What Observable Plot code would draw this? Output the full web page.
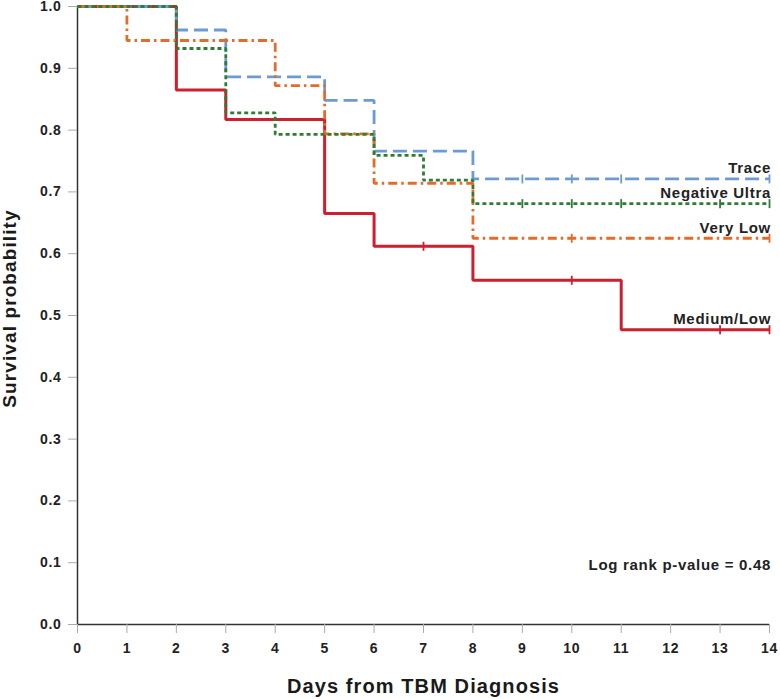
<!DOCTYPE html>
<html>
<head>
<meta charset="utf-8">
<script src="https://cdn.jsdelivr.net/npm/d3@7"></script>
<script src="https://cdn.jsdelivr.net/npm/@observablehq/plot@0.6"></script>
<style>
  html, body { margin: 0; padding: 0; background: #fff; }
  #chart svg { display: block; }
</style>
</head>
<body>
<div id="chart"></div>
<script>
// ---- Data ----
const groups = ["Trace", "Negative Ultra", "Very Low", "Medium/Low"];

const traceTime = [0, 2, 3, 5, 6, 8, 14];
const traceSurv = [1.0, 0.962, 0.886, 0.848, 0.766, 0.721, 0.721];
const traceCensor = [9, 10, 11, 14];

const negTime = [0, 2, 3, 4, 6, 7, 8, 14];
const negSurv = [1.0, 0.932, 0.828, 0.793, 0.759, 0.719, 0.681, 0.681];
const negCensor = [9, 10, 11, 13, 14];

const vlowTime = [0, 1, 4, 5, 6, 8, 14];
const vlowSurv = [1.0, 0.945, 0.872, 0.794, 0.714, 0.625, 0.625];
const vlowCensor = [10, 14];

const medTime = [0, 2, 3, 5, 6, 8, 11, 14];
const medSurv = [1.0, 0.865, 0.817, 0.665, 0.612, 0.557, 0.477, 0.477];
const medCensor = [7, 10, 13, 14];

const xTicks = [0, 1, 2, 3, 4, 5, 6, 7, 8, 9, 10, 11, 12, 13, 14];
const yTicks = [0, 0.1, 0.2, 0.3, 0.4, 0.5, 0.6, 0.7, 0.8, 0.9, 1.0];

const xTitle = "Days from TBM Diagnosis";
const yTitle = "Survival probability";
const pvalueText = "Log rank p-value = 0.48";

// ---- Build tables ----
function curve(group, times, survs) {
  return times.map((t, i) => ({group, time: t, surv: survs[i]}));
}
function censors(group, times, stepT, stepS) {
  return times.map(t => {
    let s = stepS[0];
    for (let i = 0; i < stepT.length; i++) if (stepT[i] <= t) s = stepS[i];
    return {group, time: t, surv: s};
  });
}

const series = [
  {name: "Medium/Low", t: medTime, s: medSurv, c: medCensor, color: "#cc1f2f", dash: null, width: 3},
  {name: "Trace", t: traceTime, s: traceSurv, c: traceCensor, color: "#6b9bd2", dash: "14,6", width: 2.8},
  {name: "Very Low", t: vlowTime, s: vlowSurv, c: vlowCensor, color: "#e36c2b", dash: "9,4,2.5,4", width: 2.8},
  {name: "Negative Ultra", t: negTime, s: negSurv, c: negCensor, color: "#2e7d32", dash: "4,3", width: 2.8}
];

const vbar = {
  draw(ctx, size) {
    const r = Math.sqrt(size / Math.PI);
    ctx.moveTo(0, -r);
    ctx.lineTo(0, r);
  }
};

const marks = [];
marks.push(Plot.ruleX([0], {stroke: "#333", strokeWidth: 1.5}));
marks.push(Plot.ruleY([0], {stroke: "#333", strokeWidth: 1.5}));

for (const sr of series) {
  const data = curve(sr.name, sr.t, sr.s);
  marks.push(Plot.line(data, {
    x: "time", y: "surv", curve: "step-after",
    stroke: sr.color, strokeWidth: sr.width,
    strokeDasharray: sr.dash || undefined,
    strokeLinecap: "butt", strokeLinejoin: "miter"
  }));
}
for (const sr of series) {
  marks.push(Plot.dot(censors(sr.name, sr.c, sr.t, sr.s), {
    x: "time", y: "surv", symbol: vbar, r: 4.5,
    stroke: sr.color, strokeWidth: 1.8, fill: "none"
  }));
}

// Curve labels at the right end of each curve
const labelData = series.map(sr => ({
  text: sr.name, time: sr.t[sr.t.length - 1], surv: sr.s[sr.s.length - 1]
}));
marks.push(Plot.text(labelData, {
  x: "time", y: "surv", text: "text", textAnchor: "end",
  dy: -10.5, dx: 1.5, fontSize: 15, fontWeight: "bold", fill: "#222"
}));

marks.push(Plot.text([pvalueText], {
  frameAnchor: "bottom-right", text: d => d, textAnchor: "end", lineAnchor: "middle",
  dx: 1.5, dy: -59.5, fontSize: 15, fontWeight: "bold", fill: "#222"
}));

// Axes
marks.push(Plot.axisX({
  ticks: xTicks, tickSize: 9, tickPadding: 10, stroke: "#aaa", color: "#222",
  fontSize: 14, fontWeight: "bold", label: null, tickFormat: d3.format("d")
}));
marks.push(Plot.axisY({
  ticks: yTicks, tickSize: 9, tickPadding: 7, stroke: "#aaa", color: "#222",
  fontSize: 14, fontWeight: "bold", label: null, tickFormat: d3.format(".1f")
}));

// Axis titles
marks.push(Plot.text([xTitle], {
  frameAnchor: "bottom", text: d => d, textAnchor: "middle", lineAnchor: "middle",
  dy: 61.6, fontSize: 20, fontWeight: "bold", fill: "#1a1a1a"
}));
marks.push(Plot.text([yTitle], {
  frameAnchor: "left", text: d => d, rotate: -90, textAnchor: "middle", lineAnchor: "middle",
  dx: -67.5, dy: -7, fontSize: 19, fontWeight: "bold", fill: "#1a1a1a"
}));

const chart = Plot.plot({
  width: 780,
  height: 699,
  marginLeft: 77,
  marginRight: 11,
  marginTop: 6,
  marginBottom: 75,
  x: {domain: [0, 14], axis: null},
  y: {domain: [0, 1], axis: null},
  style: {
    fontFamily: "'Liberation Sans', Arial, Helvetica, sans-serif",
    fontWeight: "bold",
    background: "#fff",
    overflow: "visible"
  },
  marks
});
document.getElementById("chart").appendChild(chart);

// widen tracking slightly to match reference typography
d3.select(chart).selectAll("text").style("letter-spacing", "0.7px");
d3.select(chart).selectAll("text")
  .filter(function() { return this.textContent === xTitle || this.textContent === yTitle; })
  .style("letter-spacing", "1.1px");
</script>
</body>
</html>
